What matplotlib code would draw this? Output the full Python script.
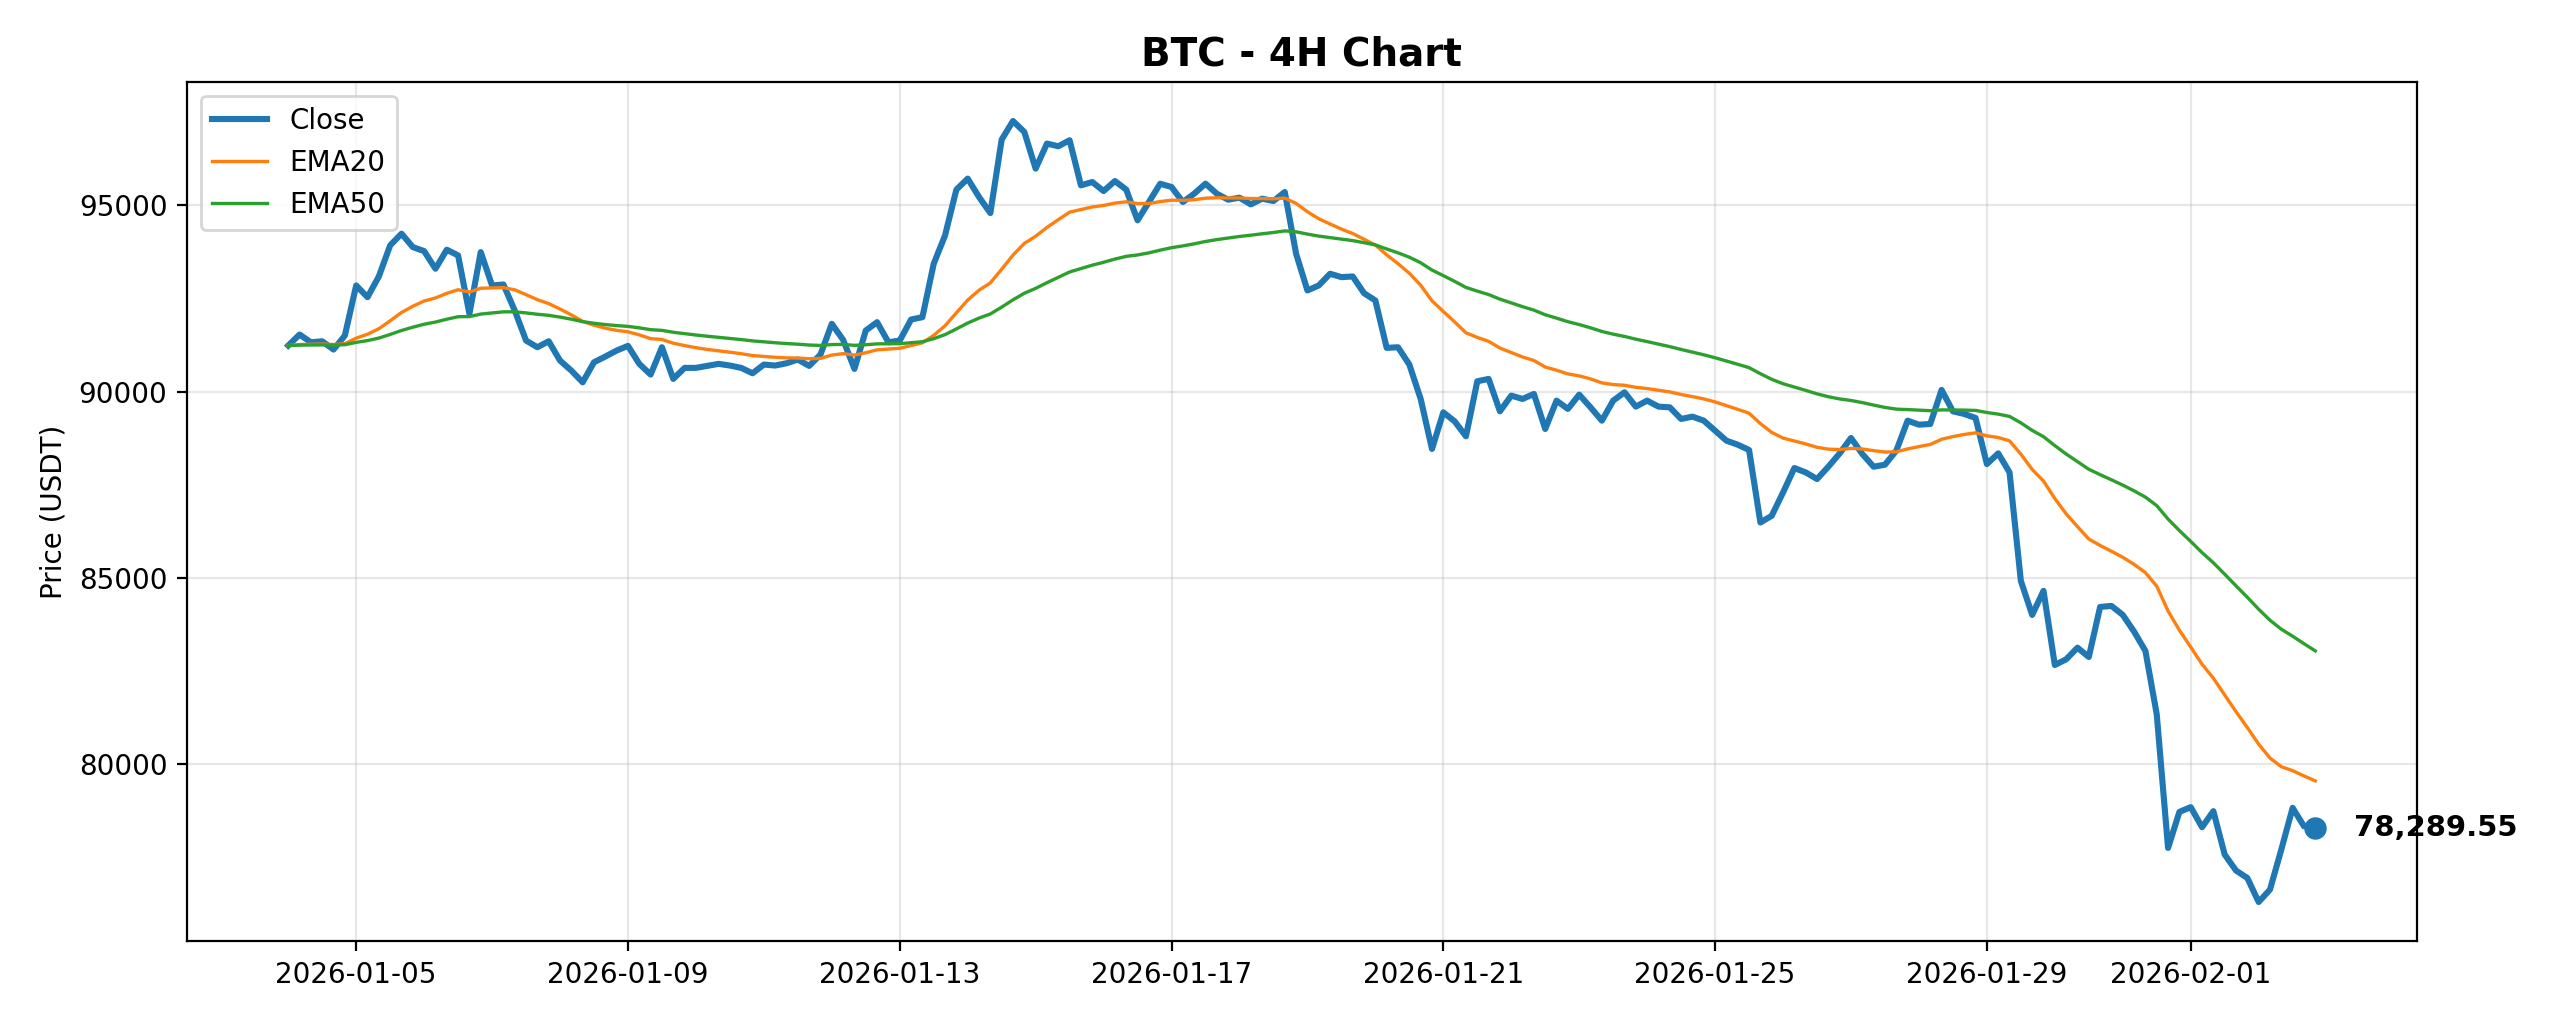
import numpy as np
import pandas as pd
import matplotlib
matplotlib.use('Agg')
import matplotlib.pyplot as plt

# 4H closes, starting 2026-01-04 00:00
start = '2026-01-04 00:00'
freq = '4h'
close = [
    91236, 91532, 91325, 91350, 91129, 91505, 92849, 92535, 93091, 93925,
    94240, 93880, 93771, 93298, 93809, 93656, 92088, 93745, 92849, 92876,
    92177, 91371, 91191, 91352, 90833, 90564, 90250, 90788, 90941, 91102,
    91228, 90745, 90457, 91191, 90341, 90637, 90637, 90690, 90745, 90700,
    90637, 90492, 90726, 90700, 90761, 90860, 90690, 90995, 91820, 91390,
    90610, 91640, 91864, 91325, 91371, 91935, 91998, 93432, 94193, 95422,
    95718, 95224, 94793, 96765, 97265, 96970, 95986, 96658, 96586, 96747,
    95537, 95626, 95384, 95653, 95422, 94597, 95089, 95580, 95492, 95089,
    95313, 95582, 95313, 95152, 95206, 95026, 95179, 95116, 95358, 93701,
    92715, 92849, 93164, 93073, 93091, 92642, 92446, 91174, 91191, 90726,
    89804, 88460, 89444, 89202, 88800, 90277, 90341, 89471, 89892, 89803,
    89938, 88997, 89758, 89535, 89919, 89578, 89220, 89758, 89982, 89597,
    89758, 89597, 89578, 89266, 89328, 89220, 88952, 88683, 88575, 88433,
    86487, 86667, 87293, 87949, 87831, 87653, 87984, 88342, 88755, 88325,
    87984, 88038, 88414, 89220, 89113, 89131, 90045, 89471, 89400, 89293,
    88056, 88342, 87831, 84920, 84006, 84651, 82662, 82814, 83126, 82876,
    84220, 84247, 84006, 83557, 83038, 81336, 77750, 78718, 78845, 78307,
    78737, 77573, 77143, 76944, 76299, 76633, 77708, 78826, 78334, 78289.55,
]
ema_spans = [20, 50]

t = pd.date_range(start, periods=len(close), freq=freq)
s = pd.Series(close, index=t)

fig, ax = plt.subplots(figsize=(12.8, 5.12), dpi=200)
fig.subplots_adjust(left=0.073, right=0.944, top=0.92, bottom=0.081)

ax.plot(t, s.values, color='#1f77b4', lw=2.2, label='Close')
cols = ['#ff7f0e', '#2ca02c']
for span, c in zip(ema_spans, cols):
    ema = s.ewm(span=span, adjust=False).mean()
    ax.plot(t, ema.values, color=c, lw=1.2, label='EMA%d' % span)

last_t, last_v = t[-1], s.values[-1]
ax.scatter([last_t], [last_v], s=50, color='#1f77b4', zorder=5)
ax.annotate('{:,.2f}'.format(last_v), (last_t, last_v), xytext=(14, 0),
            textcoords='offset points', va='center', ha='left',
            fontsize=10.5, fontweight='bold', annotation_clip=False)

ax.set_title('BTC - 4H Chart', fontsize=14, fontweight='bold')
ax.set_ylabel('Price (USDT)')
ax.grid(True, alpha=0.3)
ax.legend(loc='upper left')

fig.savefig('out.png', dpi=200)
